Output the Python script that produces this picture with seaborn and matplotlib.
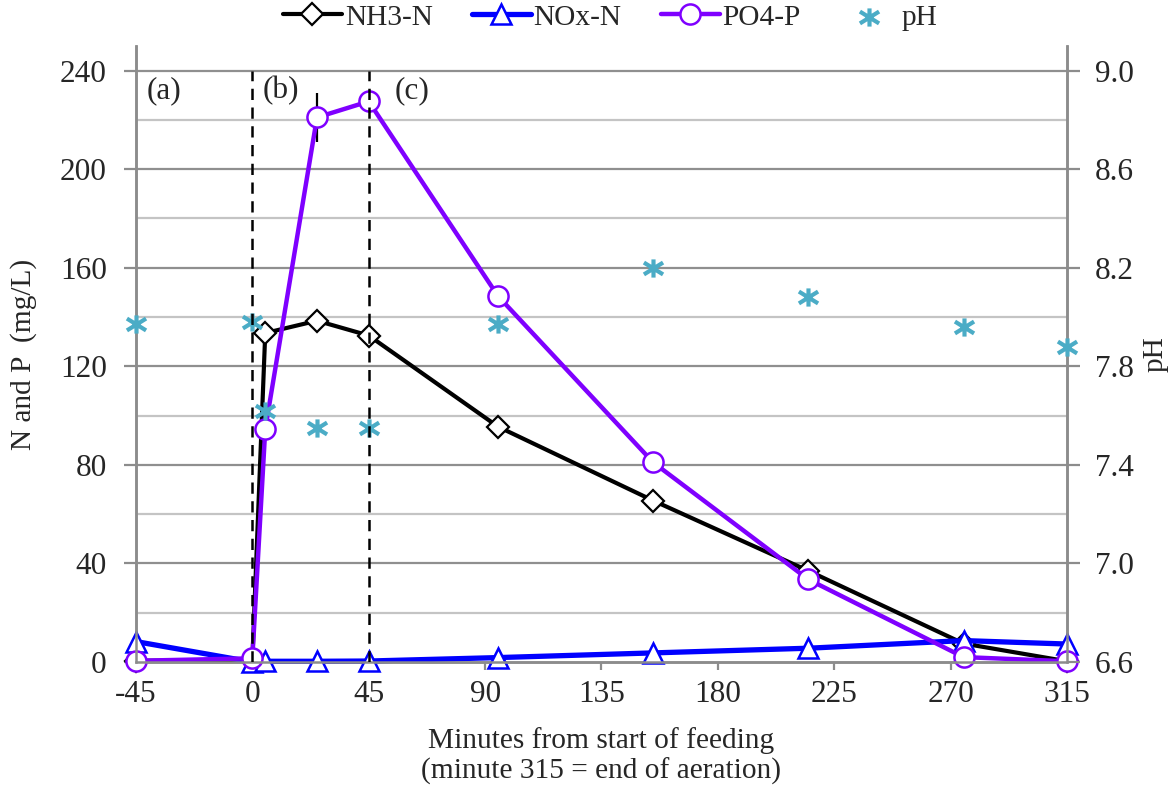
import numpy as np
import matplotlib
matplotlib.use("Agg")
import matplotlib.pyplot as plt
from matplotlib.path import Path
from matplotlib.ticker import FixedLocator
import seaborn as sns

# ---- data -------------------------------------------------------------
minutes = [-45, 0, 5, 25, 45, 95, 155, 215, 275, 315]
nh3_n = [0.5, 0.8, 133.5, 138.5, 132.5, 95.5, 65.5, 37.0, 7.5, 0.3]
nox_n = [8.3, 0.0, 0.3, 0.3, 0.4, 1.8, 3.7, 5.6, 8.7, 7.3]
po4_p = [0.5, 1.5, 94.5, 221.0, 227.5, 148.5, 81.0, 33.5, 2.0, 0.3]
po4_err = [0, 0, 0, 10.0, 0, 0, 0, 0, 0, 0]
ph = [7.97, 7.98, 7.62, 7.55, 7.55, 7.97, 8.20, 8.08, 7.96, 7.88]

phase_bounds = [0, 45]
phase_labels = ["(a)", "(b)", "(c)"]
phase_label_x = [-41, 4, 55]

x_ticks = [-45, 0, 45, 90, 135, 180, 225, 270, 315]
left_ticks = [0, 40, 80, 120, 160, 200, 240]
right_ticks = [6.6, 7.0, 7.4, 7.8, 8.2, 8.6, 9.0]

# ---- style ------------------------------------------------------------
sns.set_theme(style="white")
plt.rcParams["font.family"] = ["Liberation Serif", "DejaVu Serif"]
FS_TICK = 22.5
FS = 21.2

SPINE = "#8C8C8C"
GRID_MAJOR = "#8F8F8F"
GRID_MINOR = "#C4C4C4"
C_NH3 = "#000000"
C_NOX = "#0000FF"
C_PO4 = "#7F00FF"
C_PH = "#4BACC6"

fig = plt.figure(figsize=(11.76, 7.90), dpi=100)
ax = fig.add_axes([0.1156, 0.1620, 0.7917, 0.7798])
ax2 = ax.twinx()

ax.set_xlim(-45, 315)
ax.set_ylim(0, 250)
ax2.set_ylim(6.6, 9.1)

# horizontal gridlines every 20 mg/L, drawn up to 240
for v in np.arange(20, 241, 20):
    major = (v % 40 == 0)
    ax.axhline(v, color=GRID_MAJOR if major else GRID_MINOR,
               lw=1.6, zorder=0.5)

# ---- series -----------------------------------------------------------
sns.lineplot(x=minutes, y=nh3_n, ax=ax, color=C_NH3, lw=3.0,
             marker="D", markersize=11.5, markerfacecolor="white",
             markeredgecolor=C_NH3, markeredgewidth=1.6,
             label="NH3-N", clip_on=False, zorder=3)
sns.lineplot(x=minutes, y=nox_n, ax=ax, color=C_NOX, lw=3.8,
             marker="^", markersize=15, markerfacecolor="white",
             markeredgecolor=C_NOX, markeredgewidth=1.8,
             label="NOx-N", clip_on=False, zorder=3)
sns.lineplot(x=minutes, y=po4_p, ax=ax, color=C_PO4, lw=3.2,
             marker="o", markersize=14.5, markerfacecolor="white",
             markeredgecolor=C_PO4, markeredgewidth=1.8,
             label="PO4-P", clip_on=False, zorder=4)

# error bar on PO4-P where a spread was measured
err_idx = [i for i, e in enumerate(po4_err) if e > 0]
ax.errorbar([minutes[i] for i in err_idx], [po4_p[i] for i in err_idx],
            yerr=[po4_err[i] for i in err_idx], fmt="none",
            ecolor="black", elinewidth=1.6, capsize=0, zorder=2.5)

# pH as asterisk-style markers on the secondary axis
star = Path([(-1, -0.62), (1, 0.62), (-1, 0.62), (1, -0.62), (0, -0.95), (0, 0.95)],
            [Path.MOVETO, Path.LINETO, Path.MOVETO, Path.LINETO, Path.MOVETO, Path.LINETO])
sns.scatterplot(x=minutes, y=ph, ax=ax2, marker=star, s=190,
                color=C_PH, edgecolor=C_PH, linewidth=3.0,
                label="pH", clip_on=False, zorder=5)

# phase boundaries and phase labels
for xb in phase_bounds:
    ax2.axvline(xb, ymin=0, ymax=240 / 250, color="black", lw=1.8,
                ls=(0, (4.5, 3)), zorder=6)
for lab, xl in zip(phase_labels, phase_label_x):
    ax.text(xl, 232, lab, fontsize=FS_TICK, ha="left", va="center", zorder=7)

# ---- axes -------------------------------------------------------------
ax.xaxis.set_major_locator(FixedLocator(x_ticks))
ax.set_xticklabels([str(t) for t in x_ticks])
ax.yaxis.set_major_locator(FixedLocator(left_ticks))
ax2.yaxis.set_major_locator(FixedLocator(right_ticks))
ax2.set_yticklabels([f"{t:.1f}" for t in right_ticks])

for a in (ax, ax2):
    a.grid(False)
    a.spines["top"].set_visible(False)
    for s in ("left", "right", "bottom"):
        a.spines[s].set_color(SPINE)
        a.spines[s].set_linewidth(1.8)

ax.tick_params(axis="x", direction="out", length=6, width=1.6, color=SPINE,
               labelsize=FS_TICK, pad=7, bottom=True)
ax.tick_params(axis="y", direction="out", length=9, width=1.6, color=SPINE,
               labelsize=FS_TICK, pad=12, left=True)
ax2.tick_params(axis="y", direction="out", length=9, width=1.6, color=SPINE,
                labelsize=FS_TICK, pad=11, right=True)

ax.set_xlabel("Minutes from start of feeding\n(minute 315 = end of aeration)",
              fontsize=FS, linespacing=1.15, labelpad=13)
ax.set_ylabel("N and P  (mg/L)", fontsize=FS)
ax.yaxis.set_label_coords(-0.106, 0.5)
ax2.set_ylabel("pH", fontsize=FS, rotation=90)
ax2.yaxis.set_label_coords(1.0816, 0.5)

# combined legend across the top
h1, l1 = ax.get_legend_handles_labels()
h2, l2 = ax2.get_legend_handles_labels()
for a in (ax, ax2):
    if a.get_legend() is not None:
        a.get_legend().remove()
fig.legend(h1 + h2, l1 + l2, loc="center", bbox_to_anchor=(0.519, 0.978),
           ncol=4, frameon=False, fontsize=FS, handlelength=2.0,
           handletextpad=0.1, columnspacing=1.33, borderaxespad=0)

fig.savefig("out.png", dpi=100)
